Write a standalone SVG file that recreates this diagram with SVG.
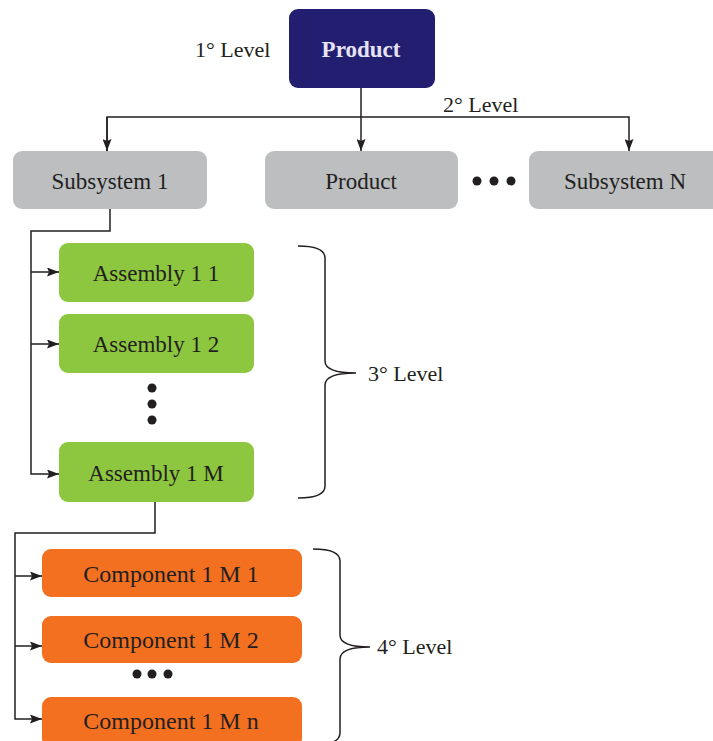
<svg xmlns="http://www.w3.org/2000/svg" width="713" height="741" viewBox="0 0 713 741">
<defs>
<style>
.t{font-family:"Liberation Serif","Times New Roman",serif;font-size:23px;fill:#231f20;text-anchor:middle}
.c{font-size:24px}
.lv{font-family:"Liberation Serif","Times New Roman",serif;font-size:22px;fill:#231f20}
.ln{fill:none;stroke:#231f20;stroke-width:1.5}
.br{fill:none;stroke:#231f20;stroke-width:1.5}
.gray{fill:#bcbec0}
.green{fill:#8dc63f}
.orange{fill:#f37021}
.dot{fill:#231f20}
</style>
<marker id="ah" viewBox="0 0 12 9" refX="12" refY="4.5" markerWidth="12" markerHeight="9" markerUnits="userSpaceOnUse" orient="auto">
<path d="M0,0 L12,4.5 L0,9 L2,4.5 Z" fill="#231f20"/>
</marker>
</defs>
<rect width="713" height="741" fill="#ffffff"/>

<g id="connectors">
<path class="ln" d="M361,88 V151" marker-end="url(#ah)"/>
<path class="ln" d="M107,151 V117 H629 V151" marker-end="url(#ah)"/>
<path class="ln" d="M107,117 V151" marker-end="url(#ah)"/>
<path class="ln" d="M110,209 V231 H31 V474 H59" marker-end="url(#ah)"/>
<path class="ln" d="M31,272 H59" marker-end="url(#ah)"/>
<path class="ln" d="M31,344 H59" marker-end="url(#ah)"/>
<path class="ln" d="M155,502 V533 H15 V719 H42" marker-end="url(#ah)"/>
<path class="ln" d="M15,576 H42" marker-end="url(#ah)"/>
<path class="ln" d="M15,646 H42" marker-end="url(#ah)"/>
</g>

<g id="product-top">
<rect x="289" y="9" width="146" height="79" rx="9" fill="#221e70"/>
<text x="361" y="57" class="t" style="font-weight:bold;fill:#e6e4f4">Product</text>
</g>
<text id="level1" x="195" y="57" class="lv">1° Level</text>
<text id="level2" x="443" y="112" class="lv">2° Level</text>

<g id="subsystem-1">
<rect x="13" y="151" width="194" height="58" rx="9" class="gray"/>
<text x="110" y="189" class="t">Subsystem 1</text>
</g>
<g id="product-2">
<rect x="265" y="151" width="193" height="58" rx="9" class="gray"/>
<text x="361" y="189" class="t">Product</text>
</g>
<g id="dots-h1">
<circle cx="477" cy="181" r="4.5" class="dot"/>
<circle cx="494" cy="181" r="4.5" class="dot"/>
<circle cx="511" cy="181" r="4.5" class="dot"/>
</g>
<g id="subsystem-n">
<rect x="529" y="151" width="194" height="58" rx="9" class="gray"/>
<text x="625" y="189" class="t">Subsystem N</text>
</g>

<g id="assembly-1-1">
<rect x="59" y="243" width="195" height="59" rx="9" class="green"/>
<text x="156" y="281" class="t">Assembly 1 1</text>
</g>
<g id="assembly-1-2">
<rect x="59" y="314" width="195" height="59" rx="9" class="green"/>
<text x="156" y="352" class="t">Assembly 1 2</text>
</g>
<g id="dots-v">
<circle cx="152" cy="388" r="4.5" class="dot"/>
<circle cx="152" cy="404" r="4.5" class="dot"/>
<circle cx="152" cy="420" r="4.5" class="dot"/>
</g>
<g id="assembly-1-m">
<rect x="59" y="442" width="195" height="60" rx="9" class="green"/>
<text x="156" y="481" class="t">Assembly 1 M</text>
</g>

<g id="brace-3">
<path class="br" d="M298,246 Q325,246 325,258 V361 Q325,373 356,373 Q325,373 325,385 V486 Q325,498 298,498"/>
<text x="368" y="381" class="lv">3° Level</text>
</g>

<g id="component-1-m-1">
<rect x="42" y="549" width="260" height="48" rx="9" class="orange"/>
<text x="171" y="582" class="t c">Component 1 M 1</text>
</g>
<g id="component-1-m-2">
<rect x="42" y="616" width="260" height="47" rx="9" class="orange"/>
<text x="171" y="648" class="t c">Component 1 M 2</text>
</g>
<g id="dots-h2">
<circle cx="137" cy="674" r="4.5" class="dot"/>
<circle cx="152" cy="674" r="4.5" class="dot"/>
<circle cx="168" cy="674" r="4.5" class="dot"/>
</g>
<g id="component-1-m-n">
<rect x="42" y="697" width="260" height="50" rx="9" class="orange"/>
<text x="171" y="729" class="t c">Component 1 M n</text>
</g>

<g id="brace-4">
<path class="br" d="M313,549 Q340,549 340,561 V635 Q340,647 370,647 Q340,647 340,659 V733 Q340,745 313,745"/>
<text x="377" y="654" class="lv">4° Level</text>
</g>
</svg>
